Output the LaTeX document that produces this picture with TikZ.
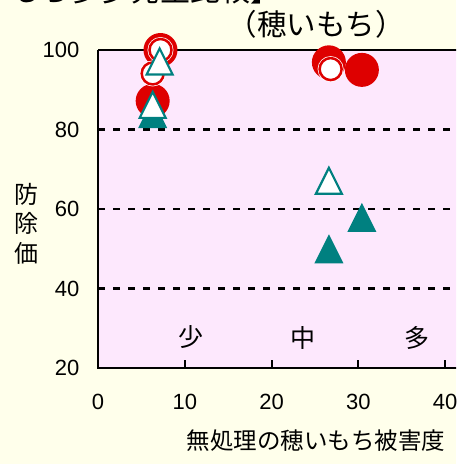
\documentclass[tikz,border=0pt]{standalone}
\usepackage{fontspec}
\setmainfont{Liberation Sans}
\newfontfamily\jpfont{Noto Sans CJK JP}
\usepackage{xcolor}
\usetikzlibrary{positioning,calc}
\definecolor{cream}{RGB}{255,255,235}
\definecolor{lightpink}{RGB}{253,232,253}
\definecolor{markred}{RGB}{222,0,0}
\definecolor{markteal}{RGB}{0,128,128}

\tikzset{
	ticklabel/.style={font=\fontsize{22}{24}\selectfont, inner sep=0pt},
	jplabel/.style={font=\jpfont\fontsize{23.5}{26}\selectfont, inner sep=0pt},
	gridline/.style={line width=2.5pt, dash pattern=on 7pt off 8pt},
	axisline/.style={line width=2.7pt},
	hollowtri/.style={fill=white, draw=markteal, line width=2.2pt, line join=miter}
}

\begin{document}
\begin{tikzpicture}[x=1pt,y=-1pt]
				\useasboundingbox (0,0) rectangle (456,464);
				\clip (0,0) rectangle (456,464);
				\fill[cream] (0,0) rectangle (456,464);
				\fill[lightpink] (98,50) rectangle (460,368);
				
				\coordinate (origin) at (98,368);
				\coordinate (ytop) at (98,50);
				\coordinate (xend) at (460,368);
				\coordinate (rtop) at (460,50);
				
				% grid
				\foreach \g in {80,60,40}
					\draw[gridline] (98,{368-3.975*(\g-20)}) -- (460,{368-3.975*(\g-20)});
				
				% frame
				\draw[line width=2pt] (ytop) -- (rtop);
				\draw[axisline] (ytop) -- (origin) -- (xend);
				\foreach \t in {1,2,3,4}
					\draw[line width=2pt] (98+86.8*\t,368) -- (98+86.8*\t,360);
				
				% tick labels
				\foreach \v in {20,40,60,80,100}
					\node[ticklabel, anchor=east] (y\v) at (79.5,{368-3.975*(\v-20)}) {\v};
				\foreach \v in {0,10,20,30,40}
					\node[ticklabel] (x\v) at (98+8.68*\v,402) {\v};
				
				% titles
				\node[jplabel, font=\jpfont\fontsize{30}{32}\selectfont, anchor=base west] (title) at (-80,1) {【穂いもち多少発生比較】};
				\node[jplabel, font=\jpfont\fontsize{29.5}{32}\selectfont, anchor=base] (sub) at (316,35.5) {（穂いもち）};
				\node[jplabel] (xtitle) at (316,441) {無処理の穂いもち被害度};
				\node[jplabel, font=\jpfont\fontsize{24}{29.5}\selectfont, align=center] (ytitle) at (26.5,223.5) {防\\除\\価};
				\node[jplabel, font=\jpfont\fontsize{25}{26}\selectfont] (few) at (190.5,337.5) {少};
				\node[jplabel, font=\jpfont\fontsize{25}{26}\selectfont] (mid) at (303,337.5) {中};
				\node[jplabel, font=\jpfont\fontsize{25}{26}\selectfont] (many) at (416.5,337.5) {多};
				
				% data
				\begin{scope}[shift={(98,447.5)}, x=8.68pt, y=3.975pt]
					\foreach \px/\py in {7.2/100, 6.3/87.2, 26.6/96.9, 30.4/95.0}
						\fill[markred] (\px,\py) circle[radius=17pt];
					\foreach \px/\py in {7.2/100, 6.3/94.1, 26.8/95.2}{
						\fill[white] (\px,\py) circle[radius=13pt];
						\draw[markred, line width=2.5pt] (\px,\py) circle[radius=11pt];
					}
					\foreach \px/\py in {6.3/84.0, 26.6/50.0, 30.4/57.9}
						\fill[markteal] (\px,\py) ++(0pt,14.5pt) -- ++(14.5pt,-29pt) -- ++(-29pt,0pt) -- cycle;
					\foreach \px/\py in {7.1/97.1, 6.3/86.2, 26.6/67.1}
						\draw[hollowtri] (\px,\py) ++(0pt,13pt) -- ++(13pt,-26pt) -- ++(-26pt,0pt) -- cycle;
				\end{scope}
			\end{tikzpicture}
\end{document}
